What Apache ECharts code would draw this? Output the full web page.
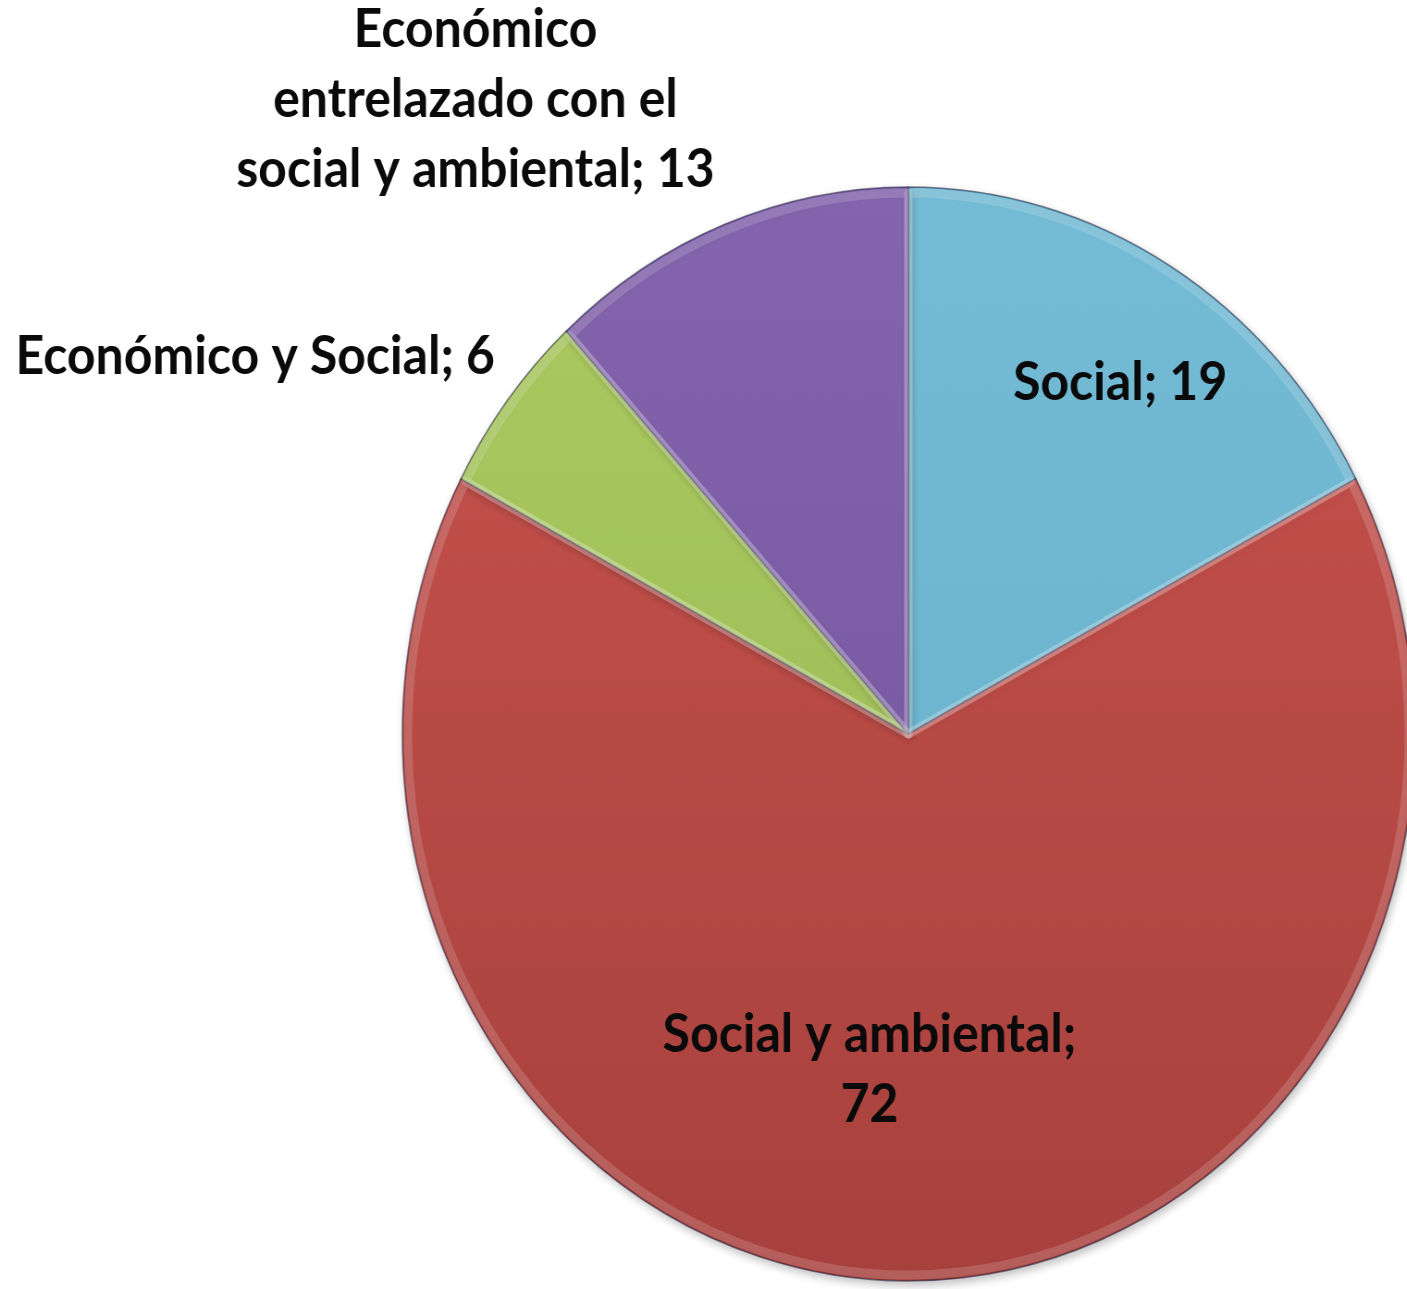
<!DOCTYPE html>
<html>
<head>
<meta charset="utf-8">
<script src="https://cdn.jsdelivr.net/npm/echarts@6/dist/echarts.min.js"></script>
<style>
  html, body { margin: 0; padding: 0; background: #fff; overflow: hidden; }
  #wrap { width: 1407px; height: 1289px; overflow: hidden; position: relative; }
  #chart { width: 1521px; height: 1289px; transform: scaleX(0.925); transform-origin: 0 0; }
</style>
</head>
<body>
<div id="wrap"><div id="chart"></div></div>
<script>
// Data
const categories = [
  'Social',
  'Social y ambiental',
  'Económico y Social',
  'Económico\nentrelazado con el\nsocial y ambiental'
];
const values = [19, 72, 6, 13];

// Styles / layout (kept separate from data)
const colorStops = [
  ['#74BCD6', '#68AFCA'],
  ['#C9534E', '#A7413D'],
  ['#ABCB60', '#97B553'],
  ['#8364AD', '#71539B']
];
const labelPos = [
  [1211, 383],
  [940, 1070],
  [276, 357],
  [514, 100]
];

const chart = echarts.init(document.getElementById('chart'));

const data = categories.map((name, i) => ({
  name: name,
  value: values[i],
  itemStyle: {
    color: new echarts.graphic.LinearGradient(0, 187, 0, 1281, [
      { offset: 0, color: colorStops[i][0] },
      { offset: 1, color: colorStops[i][1] }
    ], true)
  }
}));

const bevelData = categories.map((name, i) => ({ name: name, value: values[i] }));

chart.setOption({
  animation: false,
  series: [{
    type: 'pie',
    center: [982, 734],
    radius: [0, 547],
    startAngle: 90,
    clockwise: true,
    avoidLabelOverlap: false,
    data: data,
    itemStyle: {
      borderColor: 'rgba(30,30,60,0.55)',
      borderWidth: 1.5,
      shadowBlur: 10,
      shadowColor: 'rgba(0,0,0,0.25)',
      shadowOffsetX: 2,
      shadowOffsetY: 4
    },
    label: {
      show: true,
      position: 'outside',
      formatter: function (p) {
        if (p.dataIndex === 1) return p.name + ';\n' + p.value;
        return p.name + '; ' + p.value;
      },
      fontFamily: 'Lato',
      fontWeight: 'bold',
      fontSize: 54,
      lineHeight: 70,
      color: '#0a0a0a',
      align: 'center'
    },
    labelLine: { show: false },
    labelLayout: function (params) {
      const pos = labelPos[params.dataIndex];
      return { x: pos[0], y: pos[1], align: 'center', verticalAlign: 'middle' };
    }
  }, {
    // bevel highlight overlay
    type: 'pie',
    silent: true,
    center: [982, 734],
    radius: [0, 541],
    startAngle: 90,
    clockwise: true,
    data: bevelData,
    label: { show: false },
    labelLine: { show: false },
    itemStyle: {
      color: 'rgba(0,0,0,0)',
      borderColor: 'rgba(255,255,255,0.16)',
      borderWidth: 9
    },
    emphasis: { disabled: true }
  }]
});
</script>
</body>
</html>
